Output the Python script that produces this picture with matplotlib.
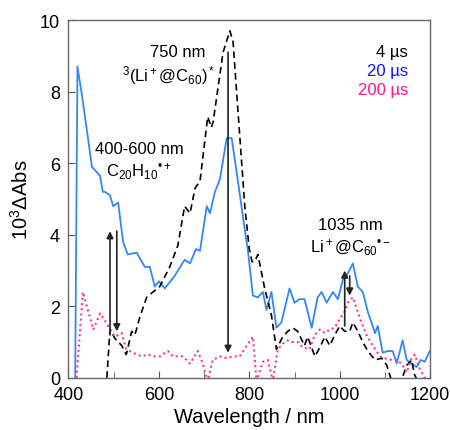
import matplotlib
matplotlib.use("Agg")
import matplotlib.pyplot as plt

plt.rcParams['font.family'] = ['Liberation Sans', 'DejaVu Sans']
plt.rcParams['mathtext.fontset'] = 'custom'
plt.rcParams['mathtext.rm'] = 'Liberation Sans'
plt.rcParams['mathtext.it'] = 'Liberation Sans'

# 4 us (black dashed)
wl_4 = [485, 492, 503, 518, 528, 540, 547, 558, 573, 587, 602, 624, 642, 657, 669,
        680, 691, 708, 716, 720, 742, 757, 764, 790, 800, 806, 812, 819, 834, 849,
        860, 874, 885, 896, 907, 922, 929, 945, 956, 967, 978, 989, 1000, 1011,
        1022, 1029, 1040, 1051, 1062, 1078, 1093, 1104, 1115, 1130, 1148, 1159,
        1165, 1176, 1190]
abs_4 = [0, 1.35, 1.1, 0.9, 0.65, 1.3, 1.2, 1.7, 2.25, 2.4, 2.55, 3.1, 3.7, 4.8, 4.6,
         5.3, 5.5, 7.3, 7.0, 7.15, 9.1, 9.7, 9.4, 4.8, 3.6, 3.25, 3.25, 3.45, 2.5, 1.75,
         0.8, 1.15, 1.3, 1.4, 1.3, 0.9, 1.15, 0.6, 0.85, 1.15, 0.9, 1.2, 1.45, 1.3,
         1.3, 1.55, 1.3, 1.0, 0.75, 0.5, 0.55, 0.35, -0.1, -0.3, 0.35, 0.5,
         0.1, -0.2, -0.5]

# 20 us (blue)
wl_20 = [415, 420, 430, 440, 452, 470, 476, 481, 492, 499, 510, 521, 531, 551, 569,
         580, 591, 600, 613, 635, 657, 669, 682, 691, 706, 713, 724, 735, 750, 761,
         772, 786, 797, 808, 819, 830, 838, 849, 860, 871, 889, 900, 911, 922, 938,
         951, 960, 971, 985, 996, 1007, 1015, 1029, 1040, 1051, 1062, 1078, 1084,
         1095, 1106, 1117, 1126, 1139, 1148, 1159, 1170, 1179, 1188, 1199]
abs_20 = [0, 8.7, 7.9, 7.0, 5.9, 5.65, 5.2, 5.2, 5.1, 4.8, 4.9, 3.8, 3.45, 3.5, 3.1,
          3.1, 2.55, 2.7, 2.5, 2.85, 3.3, 3.2, 3.6, 3.55, 4.8, 4.6, 5.2, 5.55, 6.7, 6.7,
          5.75, 4.5, 3.55, 2.3, 2.25, 2.4, 1.9, 2.4, 1.4, 1.55, 2.5, 2.1, 2.2, 2.2, 1.4,
          2.25, 2.4, 2.1, 2.4, 2.2, 2.75, 2.85, 3.2, 2.55, 2.4, 1.85, 1.25, 1.45,
          0.7, 0.75, 0.75, 0.4, 1.05, 0.5, 0.4, 0.3, 0.5, 0.45, 0.75]

# 200 us (pink dotted)
wl_200 = [418, 432, 443, 455, 470, 481, 492, 503, 518, 528, 543, 562, 576, 591, 602,
          620, 631, 653, 669, 686, 697, 708, 719, 735, 750, 764, 779, 794, 808, 816,
          830, 841, 852, 863, 874, 885, 896, 907, 918, 933, 945, 956, 967, 978, 989,
          1000, 1011, 1018, 1029, 1037, 1048, 1059, 1073, 1089, 1099, 1115, 1128,
          1139, 1148, 1159, 1166, 1177, 1188, 1198]
abs_200 = [0, 2.4, 1.9, 1.35, 1.8, 1.6, 1.35, 1.15, 1.25, 0.8, 0.7, 0.6, 0.65, 0.6, 0.6,
           0.75, 0.6, 0.6, 0.4, 0.75, 0.4, -0.1, 0.5, 0.6, 0.55, 0.6, 0.6, 0.9, 1.15, -0.1,
           0.45, 0.5, -0.1, 0.8, 0.95, 1.05, 1.0, 1.0, 0.85, 0.8, 1.2, 1.35, 1.25, 1.35, 1.4,
           1.65, 1.85, 2.1, 2.25, 1.95, 1.55, 1.2, 0.9, 0.6, 0.55, 0.5, 0.5,
           0.35, 0.15, 0.55, 0.65, 0.25, 0, -0.2]

# arrows: (wavelength, start, end)
arrows = [(492, 1.2, 4.1), (507, 4.1, 1.3), (753, 9.1, 0.7),
          (1011, 1.45, 3.0), (1022, 2.85, 2.3)]

fig = plt.figure(figsize=(4.5, 4.31), dpi=100)
ax = fig.add_axes([0.152, 0.121, 0.804, 0.830])

ax.plot(wl_20, abs_20, color='#3388f5', lw=1.3)
ax.plot(wl_4, abs_4, color='black', lw=1.2, linestyle=(0, (4, 2.5)))
ax.plot(wl_200, abs_200, color='#ff3399', lw=1.5, linestyle=(0, (1, 1.5)))

for x, y0, y1 in arrows:
    ax.annotate('', xy=(x, y1), xytext=(x, y0),
                arrowprops=dict(arrowstyle='-|>', color='#222222', lw=1.2,
                                mutation_scale=10, shrinkA=0, shrinkB=0))

ax.set_xlim(400, 1200)
ax.set_ylim(0, 10)
ax.set_xticks([400, 600, 800, 1000, 1200])
ax.set_xticks([500, 700, 900, 1100], minor=True)
ax.set_yticks([0, 2, 4, 6, 8, 10])
ax.tick_params(direction='in', labelsize=13, length=5, color='#555555')
ax.tick_params(axis='x', pad=6)
ax.tick_params(axis='y', pad=6)
ax.tick_params(which='minor', direction='in', length=4, color='#555555')
for s in ax.spines.values():
    s.set_color('#666666')
    s.set_linewidth(1.0)

ax.set_xlabel('Wavelength / nm', fontsize=14.5, labelpad=3)
ax.set_ylabel('10$^3$ΔAbs', fontsize=14.5, labelpad=6)

fs = 12
ax.text(642, 9.13, '750 nm', fontsize=fs, ha='center', va='center')
ax.text(622, 8.49, r'$^3$(Li$^+$@C$_{60}$)$^*$', fontsize=fs, ha='center', va='center')
ax.text(556, 6.4, '400-600 nm', fontsize=fs, ha='center', va='center')
ax.text(556, 5.78, r'C$_{20}$H$_{10}$$^{•+}$', fontsize=fs, ha='center', va='center')
ax.text(1024, 4.3, '1035 nm', fontsize=fs, ha='center', va='center')
ax.text(1024, 3.66, r'Li$^+$@C$_{60}$$^{•−}$', fontsize=fs, ha='center', va='center')

ax.text(1151, 9.13, '4 µs', fontsize=fs, ha='right', va='center', color='black')
ax.text(1151, 8.6, '20 µs', fontsize=fs, ha='right', va='center', color='#1010ff')
ax.text(1151, 8.07, '200 µs', fontsize=fs, ha='right', va='center', color='#ff1493')

fig.savefig('out.png', dpi=100)
